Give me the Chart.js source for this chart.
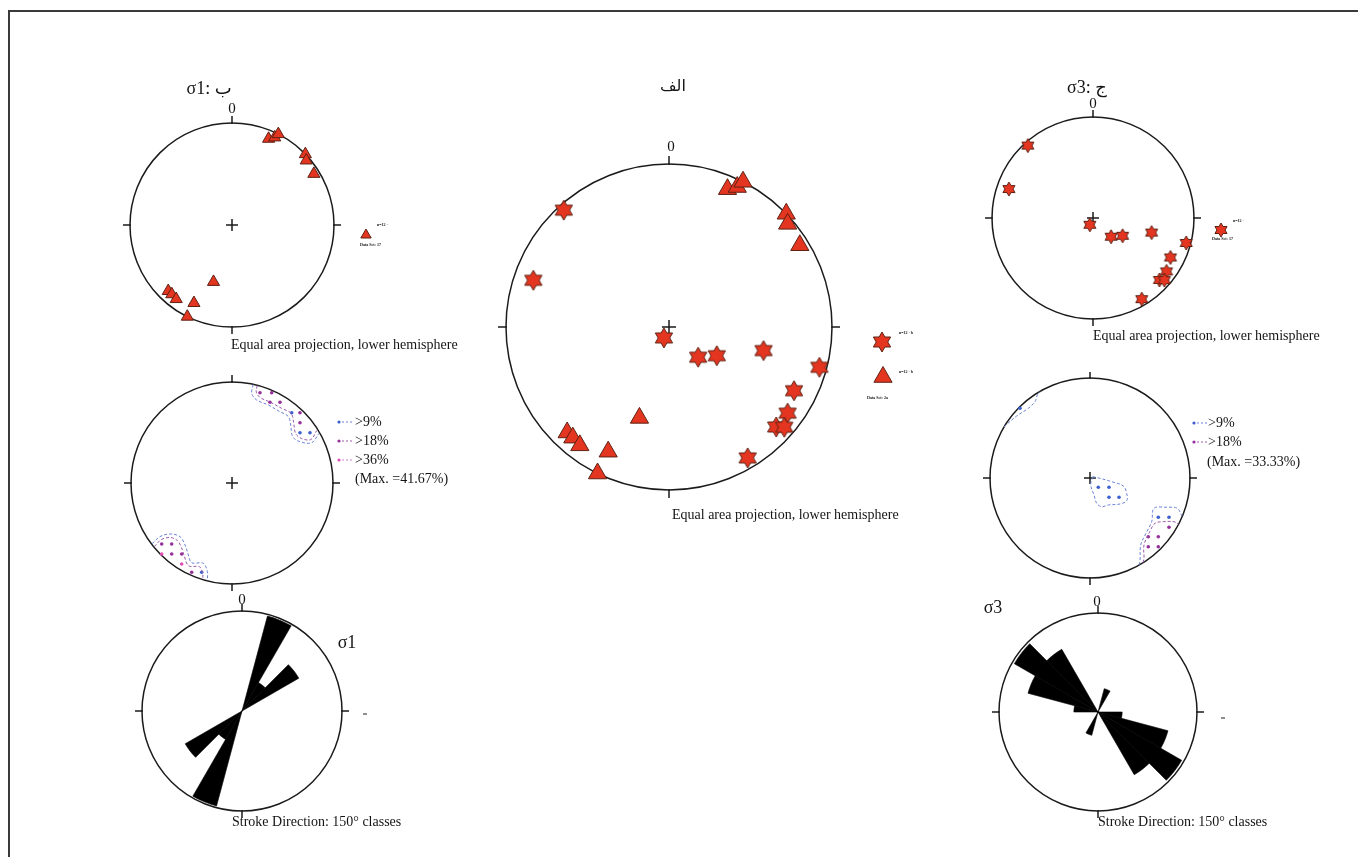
<!DOCTYPE html>
<html>
<head>
<meta charset="utf-8">
<script src="https://cdn.jsdelivr.net/npm/chart.js@4.4.1/dist/chart.umd.min.js"></script>
<style>
  html, body { margin: 0; padding: 0; background: #fff; }
  body { width: 1358px; height: 857px; position: relative; overflow: hidden; }
  #frame { position: absolute; left: 8px; top: 10px; width: 1400px; height: 900px;
           border-top: 2px solid #3a3a3a; border-left: 2px solid #3a3a3a; }
</style>
</head>
<body>
<div id="frame"></div>
<script>
// ---------- data ----------
// sigma-1 axes (trend, plunge in degrees)
const sigma1Trend  = [23, 26, 27, 46, 49, 58, 198, 224, 221, 217, 206, 206];
const sigma1Plunge = [9, 5, 0, 0, 4, 6, 41, 11, 11, 10, 16, 0];
// sigma-3 axes (trend, plunge in degrees)
const sigma3Trend  = [318, 289, 205, 136, 121, 104, 105, 117, 126, 133, 131, 149];
const sigma3Plunge = [4, 13, 84, 69, 62, 40, 5, 15, 11, 11, 7, 7];

// rose diagrams: 15 degree classes, clockwise from north (counts)
const roseBins = ['0-15','15-30','30-45','45-60','60-75','75-90','90-105','105-120','120-135','135-150','150-165','165-180',
                  '180-195','195-210','210-225','225-240','240-255','255-270','270-285','285-300','300-315','315-330','330-345','345-360'];
const roseSigma1 = [0, 6, 2, 4, 0, 0, 0, 0, 0, 0, 0, 0,  0, 6, 2, 4, 0, 0, 0, 0, 0, 0, 0, 0];
const roseSigma3 = [0, 1, 0, 0, 0, 0, 1, 3, 4, 3, 0, 0,  0, 1, 0, 0, 0, 0, 1, 3, 4, 3, 0, 0];

// density contours of sigma-1 (net units, x east / y north)
const s1Contour9NE  = [[0.21,0.975],[0.195,0.888],[0.244,0.822],[0.36,0.772],[0.475,0.706],[0.558,0.657],[0.581,0.574],[0.601,0.459],[0.673,0.409],[0.789,0.399],[0.86,0.49]];
const s1Contour18NE = [[0.25,0.965],[0.24,0.9],[0.28,0.845],[0.38,0.8],[0.49,0.74],[0.585,0.69],[0.61,0.6],[0.63,0.49],[0.69,0.44],[0.78,0.43],[0.84,0.52]];
const s1Contour9SW  = [[-0.79,-0.6],[-0.713,-0.531],[-0.614,-0.505],[-0.515,-0.531],[-0.465,-0.614],[-0.432,-0.713],[-0.399,-0.789],[-0.284,-0.795],[-0.244,-0.878],[-0.244,-0.965]];
const s1Contour18SW = [[-0.77,-0.63],[-0.7,-0.56],[-0.61,-0.54],[-0.54,-0.57],[-0.5,-0.64],[-0.47,-0.73],[-0.43,-0.82],[-0.32,-0.83],[-0.29,-0.9],[-0.29,-0.955]];
const s1Grid9  = [[0.591,0.696],[0.673,0.498],[0.772,0.498],[-0.300,-0.884]];
const s1Grid18 = [[0.277,0.894],[0.393,0.894],[0.376,0.799],[0.475,0.799],[0.673,0.696],[0.673,0.597],[-0.696,-0.604],[-0.597,-0.604],[-0.597,-0.703],[-0.498,-0.703],[-0.399,-0.884]];
const s1Grid36 = [[-0.696,-0.703],[-0.498,-0.802]];

// density contours of sigma-3
const s3Contour9NW  = [[-0.86,0.51],[-0.84,0.53],[-0.733,0.62],[-0.617,0.697],[-0.55,0.763],[-0.527,0.83],[-0.5,0.865]];
const s3Contour9C   = [[0.027,0.013],[0.1,-0.003],[0.217,-0.037],[0.333,-0.08],[0.367,-0.153],[0.367,-0.227],[0.3,-0.26],[0.183,-0.27],[0.117,-0.287],[0.067,-0.253],[0.04,-0.17],[0.007,-0.07],[0.027,0.013]];
const s3Contour9SE  = [[0.49,-0.87],[0.5,-0.827],[0.507,-0.67],[0.56,-0.553],[0.617,-0.437],[0.64,-0.303],[0.767,-0.293],[0.873,-0.303],[0.92,-0.38]];
const s3Contour18SE = [[0.53,-0.845],[0.54,-0.803],[0.54,-0.67],[0.593,-0.547],[0.65,-0.453],[0.733,-0.437],[0.84,-0.437],[0.885,-0.46]];
const s3Grid9  = [[-0.70,0.697],[0.083,-0.093],[0.19,-0.093],[0.19,-0.193],[0.29,-0.193],[0.683,-0.393],[0.79,-0.393]];
const s3Grid18 = [[0.79,-0.493],[0.583,-0.587],[0.683,-0.587],[0.583,-0.687],[0.683,-0.687]];

// ---------- styling ----------
const INK = '#1b1b1b';
const RED = '#e3351f';
const RED_EDGE = '#5e2215';
const BLUE = '#3d5fd0';
const BLUE_LINE = '#6d82d6';
const PURPLE = '#96309a';
const PURPLE_LINE = '#9a5aa8';
const PINK = '#e24fb4';
const SERIF = "'Liberation Serif', 'DejaVu Sans', serif";

// ---------- helpers ----------
const DEG = Math.PI / 180;
// Lambert equal-area (Schmidt) projection, lower hemisphere, unit primitive circle
function project(trend, plunge) {
  const r = Math.SQRT2 * Math.sin((90 - plunge) * DEG / 2);
  return { x: r * Math.sin(trend * DEG), y: r * Math.cos(trend * DEG) };
}
const toPoints = (t, p) => t.map((v, i) => project(v, p[i]));
const toXY = arr => arr.map(([x, y]) => ({ x, y }));

// six-pointed star marker
function hexagram(rs) {
  const s = Math.ceil(rs * 2 + 4);
  const cv = document.createElement('canvas');
  cv.width = s; cv.height = s;
  const g = cv.getContext('2d');
  const c = s / 2;
  g.beginPath();
  for (let k = 0; k < 12; k++) {
    const a = k * Math.PI / 6;
    const rr = (k % 2 === 0) ? rs : rs / Math.sqrt(3);
    const px = c + rr * Math.sin(a), py = c - rr * Math.cos(a);
    if (k === 0) g.moveTo(px, py); else g.lineTo(px, py);
  }
  g.closePath();
  g.fillStyle = RED; g.fill();
  g.lineWidth = 1; g.strokeStyle = RED_EDGE; g.stroke();
  return cv;
}
const starBig = hexagram(10);
const starSmall = hexagram(7);

function geometry(chart) {
  if (chart.scales.r) {
    const s = chart.scales.r;
    return { x: s.xCenter, y: s.yCenter, r: s.getDistanceFromCenterForValue(s.max) };
  }
  const sx = chart.scales.x, sy = chart.scales.y;
  const x = sx.getPixelForValue(0), y = sy.getPixelForValue(0);
  return { x, y, r: sx.getPixelForValue(1) - x };
}

function drawFrame(chart, o) {
  const g = geometry(chart), ctx = chart.ctx, t = o.tick || 7;
  ctx.save();
  ctx.strokeStyle = INK; ctx.lineWidth = 1.5;
  ctx.beginPath(); ctx.arc(g.x, g.y, g.r, 0, Math.PI * 2); ctx.stroke();
  ctx.beginPath();
  ctx.moveTo(g.x, g.y - g.r + 1); ctx.lineTo(g.x, g.y - g.r - t);
  ctx.moveTo(g.x, g.y + g.r - 1); ctx.lineTo(g.x, g.y + g.r + t);
  ctx.moveTo(g.x - g.r + 1, g.y); ctx.lineTo(g.x - g.r - t, g.y);
  ctx.moveTo(g.x + g.r - 1, g.y); ctx.lineTo(g.x + g.r + t, g.y);
  if (o.cross) {
    const c = o.cross;
    ctx.moveTo(g.x - c, g.y); ctx.lineTo(g.x + c, g.y);
    ctx.moveTo(g.x, g.y - c); ctx.lineTo(g.x, g.y + c);
  }
  ctx.stroke();
  ctx.restore();
}

function drawExtras(chart, o) {
  const g = geometry(chart), ctx = chart.ctx;
  ctx.save();
  (o.keys || []).forEach(k => {
    const x = g.x + k.dx, y = g.y + k.dy;
    ctx.fillStyle = k.color;
    ctx.beginPath(); ctx.arc(x + 2, y, 1.6, 0, Math.PI * 2); ctx.fill();
    ctx.strokeStyle = k.line; ctx.lineWidth = 1; ctx.setLineDash([2, 2]);
    ctx.beginPath(); ctx.moveTo(x + 5, y); ctx.lineTo(x + 15, y); ctx.stroke();
    ctx.setLineDash([]);
  });
  (o.marks || []).forEach(m => {
    ctx.fillStyle = RED; ctx.strokeStyle = RED_EDGE; ctx.lineWidth = 1;
    Chart.helpers.drawPoint(ctx, { pointStyle: m.style, radius: m.radius, rotation: 0, borderWidth: 1 }, g.x + m.dx, g.y + m.dy);
  });
  (o.dashes || []).forEach(d => {
    ctx.strokeStyle = '#444'; ctx.lineWidth = 1.2;
    ctx.beginPath(); ctx.moveTo(g.x + d.dx - 2, g.y + d.dy); ctx.lineTo(g.x + d.dx + 2, g.y + d.dy); ctx.stroke();
  });
  (o.texts || []).forEach(tx => {
    ctx.fillStyle = tx.color || '#141414';
    ctx.font = `${tx.weight || 'normal'} ${tx.size}px ${SERIF}`;
    ctx.textAlign = tx.align || 'center';
    ctx.textBaseline = 'middle';
    ctx.fillText(tx.t, g.x + tx.dx, g.y + tx.dy);
  });
  ctx.restore();
}

const netFrame = {
  id: 'netFrame',
  beforeDatasetsDraw(chart, _a, o) { if (!o.frameOnTop) drawFrame(chart, o); },
  afterDatasetsDraw(chart, _a, o) { if (o.frameOnTop) drawFrame(chart, o); drawExtras(chart, o); }
};

function placeCanvas(box) {
  const cv = document.createElement('canvas');
  cv.width = box.w; cv.height = box.h;
  cv.style.cssText = `position:absolute;left:${box.left}px;top:${box.top}px;width:${box.w}px;height:${box.h}px`;
  document.body.appendChild(cv);
  return cv;
}

const baseOptions = () => ({
  responsive: false, animation: false, devicePixelRatio: 1, events: [],
  layout: { padding: 0, autoPadding: false },
  plugins: { legend: { display: false }, tooltip: { enabled: false } }
});

// stereonet on a scatter chart: one net unit equals c.r pixels
function netChart(box, c, datasets, frameOpts) {
  const cv = placeCanvas(box);
  const opts = baseOptions();
  opts.scales = {
    x: { type: 'linear', display: false, min: (box.left - c.x) / c.r, max: (box.left + box.w - c.x) / c.r },
    y: { type: 'linear', display: false, min: (c.y - box.top - box.h) / c.r, max: (c.y - box.top) / c.r }
  };
  opts.plugins.netFrame = frameOpts;
  return new Chart(cv, { type: 'scatter', data: { datasets }, options: opts, plugins: [netFrame] });
}

function roseChart(box, c, counts, maxCount, frameOpts) {
  const cv = placeCanvas(box);
  const opts = baseOptions();
  opts.layout = { autoPadding: false, padding: {
    left: c.x - c.r - box.left, top: c.y - c.r - box.top,
    right: box.left + box.w - (c.x + c.r), bottom: box.top + box.h - (c.y + c.r) } };
  opts.scales = { r: { min: 0, max: maxCount, startAngle: 0,
    ticks: { display: false }, grid: { display: false }, angleLines: { display: false }, pointLabels: { display: false } } };
  opts.plugins.netFrame = Object.assign({ frameOnTop: true }, frameOpts);
  return new Chart(cv, {
    type: 'polarArea',
    data: { labels: roseBins, datasets: [{ data: counts, backgroundColor: '#000', borderColor: '#000', borderWidth: 0.6 }] },
    options: opts, plugins: [netFrame]
  });
}

const triangleSet = (pts, radius) => ({
  data: pts, pointStyle: 'triangle', pointRadius: radius,
  pointBackgroundColor: RED, pointBorderColor: RED_EDGE, pointBorderWidth: 1
});
const starSet = (pts, img) => ({
  data: pts, pointStyle: img, pointRadius: 8,
  pointBackgroundColor: RED, pointBorderColor: RED_EDGE, pointBorderWidth: 1
});
const contourSet = (pts, color) => ({
  data: toXY(pts), showLine: true, pointRadius: 0, borderColor: color, borderWidth: 1,
  borderDash: [3, 2], tension: 0.35, fill: false
});
const gridSet = (pts, color) => ({
  data: toXY(pts), pointRadius: 1.8, pointStyle: 'circle', pointBackgroundColor: color, pointBorderWidth: 0
});

const sigma1Pts = toPoints(sigma1Trend, sigma1Plunge);
const sigma3Pts = toPoints(sigma3Trend, sigma3Plunge);
const EQ = 'Equal area projection, lower hemisphere';
const ROSE = 'Stroke Direction: 150° classes';

// ---- الف : sigma-1 and sigma-3 together ----
netChart({ left: 490, top: 70, w: 440, h: 460 }, { x: 669, y: 327, r: 163 },
  [starSet(sigma3Pts, starBig), triangleSet(sigma1Pts, 10.5)],
  { cross: 7, tick: 8,
    texts: [
      { t: 'الف', dx: 4, dy: -240, size: 16 },
      { t: '0', dx: 2, dy: -180, size: 15 },
      { t: EQ, dx: 3, dy: 188, size: 14, align: 'left' },
      { t: 'n=12 · b', dx: 230, dy: 6, size: 4, align: 'left', weight: 'bold' },
      { t: 'n=12 · b', dx: 230, dy: 45, size: 4, align: 'left', weight: 'bold' },
      { t: 'Data Set: 2a', dx: 198, dy: 71, size: 4, align: 'left', weight: 'bold' }
    ],
    marks: [ { style: starBig, radius: 8, dx: 213, dy: 15 }, { style: 'triangle', radius: 10.5, dx: 214, dy: 50 } ] });

// ---- ب : sigma-1 ----
netChart({ left: 120, top: 70, w: 350, h: 295 }, { x: 232, y: 225, r: 102 },
  [triangleSet(sigma1Pts, 7)],
  { cross: 6, tick: 7,
    texts: [
      { t: 'σ1: ب', dx: -23, dy: -136, size: 18 },
      { t: '0', dx: 0, dy: -116, size: 15 },
      { t: EQ, dx: -1, dy: 120, size: 14, align: 'left' },
      { t: 'n=12 ·', dx: 145, dy: 0, size: 4, align: 'left', weight: 'bold' },
      { t: 'Data Set: 17', dx: 128, dy: 20, size: 4, align: 'left', weight: 'bold' }
    ],
    marks: [ { style: 'triangle', radius: 6, dx: 134, dy: 10 } ] });

netChart({ left: 120, top: 372, w: 340, h: 222 }, { x: 232, y: 483, r: 101 },
  [contourSet(s1Contour9NE, BLUE_LINE), contourSet(s1Contour18NE, PURPLE_LINE),
   contourSet(s1Contour9SW, BLUE_LINE), contourSet(s1Contour18SW, PURPLE_LINE),
   gridSet(s1Grid9, BLUE), gridSet(s1Grid18, PURPLE), gridSet(s1Grid36, PINK)],
  { cross: 6, tick: 7,
    keys: [ { color: BLUE, line: BLUE_LINE, dx: 105, dy: -61 },
            { color: PURPLE, line: PURPLE_LINE, dx: 105, dy: -42 },
            { color: PINK, line: '#d080c8', dx: 105, dy: -23 } ],
    texts: [
      { t: '>9%', dx: 123, dy: -61, size: 14, align: 'left' },
      { t: '>18%', dx: 123, dy: -42, size: 14, align: 'left' },
      { t: '>36%', dx: 123, dy: -23, size: 14, align: 'left' },
      { t: '(Max. =41.67%)', dx: 123, dy: -4, size: 14, align: 'left' }
    ] });

roseChart({ left: 120, top: 590, w: 300, h: 250 }, { x: 242, y: 711, r: 100 }, roseSigma1, 6.1,
  { tick: 7,
    texts: [
      { t: '0', dx: 0, dy: -111, size: 15 },
      { t: 'σ1', dx: 105, dy: -68, size: 18 },
      { t: ROSE, dx: -10, dy: 111, size: 14, align: 'left' }
    ],
    dashes: [ { dx: 123, dy: 3 } ] });

// ---- ج : sigma-3 ----
netChart({ left: 970, top: 70, w: 370, h: 285 }, { x: 1093, y: 218, r: 101 },
  [starSet(sigma3Pts, starSmall)],
  { cross: 6, tick: 7,
    texts: [
      { t: 'σ3: ج', dx: -6, dy: -130, size: 18 },
      { t: '0', dx: 0, dy: -114, size: 15 },
      { t: EQ, dx: 0, dy: 118, size: 14, align: 'left' },
      { t: 'n=12 ·', dx: 140, dy: 3, size: 4, align: 'left', weight: 'bold' },
      { t: 'Data Set: 17', dx: 119, dy: 21, size: 4, align: 'left', weight: 'bold' }
    ],
    marks: [ { style: starSmall, radius: 6, dx: 128, dy: 12 } ] });

netChart({ left: 970, top: 372, w: 340, h: 222 }, { x: 1090, y: 478, r: 100 },
  [contourSet(s3Contour9NW, BLUE_LINE), contourSet(s3Contour9C, BLUE_LINE),
   contourSet(s3Contour9SE, BLUE_LINE), contourSet(s3Contour18SE, PURPLE_LINE),
   gridSet(s3Grid9, BLUE), gridSet(s3Grid18, PURPLE)],
  { cross: 6, tick: 7,
    keys: [ { color: BLUE, line: BLUE_LINE, dx: 102, dy: -55 },
            { color: PURPLE, line: PURPLE_LINE, dx: 102, dy: -36 } ],
    texts: [
      { t: '>9%', dx: 118, dy: -55, size: 14, align: 'left' },
      { t: '>18%', dx: 118, dy: -36, size: 14, align: 'left' },
      { t: '(Max. =33.33%)', dx: 117, dy: -16, size: 14, align: 'left' }
    ] });

roseChart({ left: 970, top: 590, w: 300, h: 250 }, { x: 1098, y: 712, r: 99 }, roseSigma3, 4.1,
  { tick: 7,
    texts: [
      { t: '0', dx: -1, dy: -110, size: 15 },
      { t: 'σ3', dx: -105, dy: -104, size: 18 },
      { t: ROSE, dx: 0, dy: 110, size: 14, align: 'left' }
    ],
    dashes: [ { dx: 125, dy: 6 } ] });
</script>
</body>
</html>
